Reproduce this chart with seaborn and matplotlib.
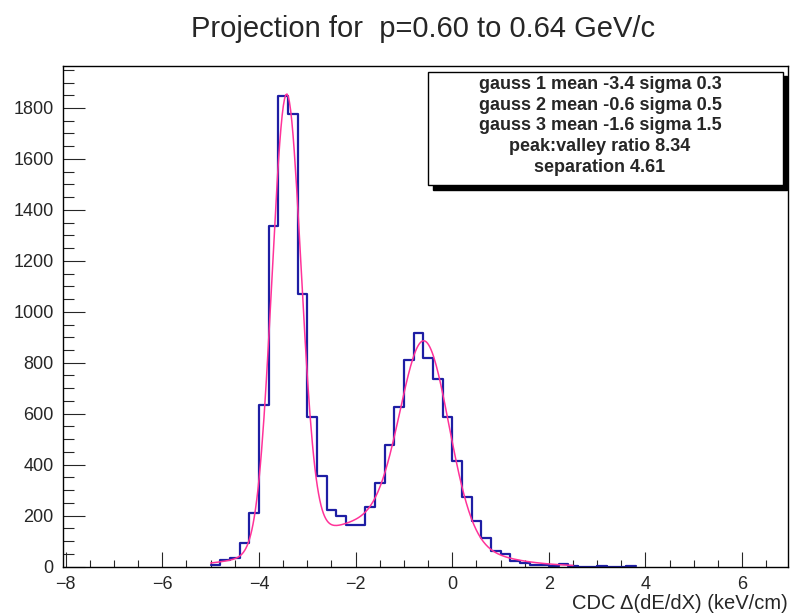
import numpy as np
import pandas as pd
import seaborn as sns
from matplotlib import pyplot as plt
from matplotlib.patches import Rectangle

# histogram: 0.2 wide bins starting at -5.0 (counts)
bin_lo = -5.0
bin_width = 0.2
counts = [5, 26, 32, 92, 209, 633, 1338, 1848, 1775, 1069,
          587, 355, 223, 197, 161, 164, 233, 327, 478, 626,
          810, 915, 819, 738, 587, 414, 272, 178, 111, 60,
          50, 21, 13, 7, 4, 2, 9, 3, 0, 0,
          3, 0, 0, 3]

# fit: three gaussians, as shown in the stat box
fit_amp = [1770, 744, 179]
fit_mean = [-3.43, -0.57, -1.6]
fit_sigma = [0.3, 0.5, 1.5]
fit_range = (-5.0, 2.5)

box_lines = [
    "gauss 1 mean -3.4 sigma 0.3",
    "gauss 2 mean -0.6 sigma 0.5",
    "gauss 3 mean -1.6 sigma 1.5",
    "peak:valley ratio 8.34",
    "separation 4.61",
]

title = "Projection for  p=0.60 to 0.64 GeV/c"
xlabel = "CDC \u0394(dE/dX) (keV/cm)"

hist_color = "#1e1ea4"
fit_color = "#ff3399"

sns.set_style("ticks")
plt.rcParams["font.family"] = ["Liberation Sans", "DejaVu Sans"]

W, H = 793, 615
fig = plt.figure(figsize=(W / 100, H / 100), dpi=100)
ax = fig.add_axes([63.3 / W, 1 - 566.5 / H, (788 - 63.3) / W, (566.5 - 65.7) / H])

edges = [round(bin_lo + bin_width * i, 6) for i in range(len(counts) + 1)]
hist_df = pd.DataFrame({"x": [(a + b) / 2 for a, b in zip(edges[:-1], edges[1:])],
                        "n": counts})
sns.histplot(data=hist_df, x="x", weights="n", bins=edges, element="step",
             fill=False, color=hist_color, linewidth=1.6, ax=ax)

xs = np.linspace(fit_range[0], fit_range[1], 300)
ys = sum(a * np.exp(-0.5 * ((xs - m) / s) ** 2)
         for a, m, s in zip(fit_amp, fit_mean, fit_sigma))
sns.lineplot(x=xs, y=ys, color=fit_color, linewidth=1.1, ax=ax)

ax.set_xlim(-8.05, 6.95)
ax.set_ylim(0, 1966)
ax.set_xticks(np.arange(-8, 7, 2))
ax.set_xticks(np.arange(-8, 7, 0.5), minor=True)
ax.set_yticks(np.arange(0, 1801, 200))
ax.set_yticks(np.arange(0, 1951, 50), minor=True)
ax.set_ylabel("")
ax.set_xlabel(xlabel, loc="right", fontsize=14.5, labelpad=1)

ax.tick_params(axis="x", which="major", direction="in", length=10.8, width=0.8,
               labelsize=13, pad=6.5)
ax.tick_params(axis="x", which="minor", direction="in", length=5.4, width=0.8)
ax.tick_params(axis="y", which="major", direction="in", length=15.8, width=0.8,
               labelsize=13, pad=7)
ax.tick_params(axis="y", which="minor", direction="in", length=7.9, width=0.8)
for sp in ax.spines.values():
    sp.set_visible(True)
    sp.set_linewidth(1.0)
    sp.set_color("black")

fig.text(423 / W, 1 - 29 / H, title, ha="center", va="center", fontsize=21)

# stat box with shadow
bx0, bx1, by0, by1 = 428.3, 782.7, 71.7, 185.0
sh = 4.5
fig.patches.append(Rectangle(((bx0 + sh) / W, 1 - (by1 + sh) / H),
                             (bx1 - bx0) / W, (by1 - by0) / H,
                             transform=fig.transFigure, facecolor="black",
                             edgecolor="black", zorder=5))
fig.patches.append(Rectangle((bx0 / W, 1 - by1 / H), (bx1 - bx0) / W, (by1 - by0) / H,
                             transform=fig.transFigure, facecolor="white",
                             edgecolor="black", linewidth=1.0, zorder=6))
for i, line in enumerate(box_lines):
    fig.text(600 / W, 1 - (84.5 + 20.7 * i) / H, line, ha="center", va="center",
             fontsize=13, fontweight="bold", zorder=7)

fig.savefig("out.png", dpi=100)
